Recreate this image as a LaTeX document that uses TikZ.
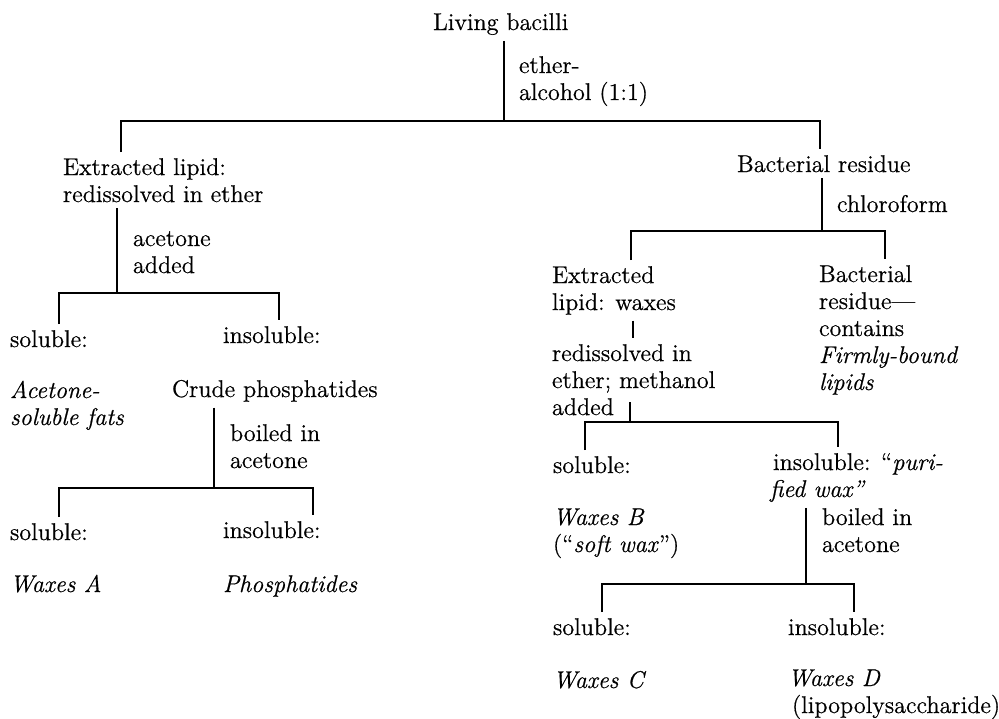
\documentclass[tikz,border=0pt]{standalone}
\usepackage{fontspec}
\setmainfont{Latin Modern Roman}[FakeBold=0.6]

\begin{document}
\begin{tikzpicture}[x=0.5pt, y=-0.5pt, line width=0.8pt,
    txt/.style={anchor=base west, inner sep=0pt, outer xsep=0pt, outer ysep=3pt, align=left,
                font=\fontsize{12.1}{13.5}\selectfont}]
      \useasboundingbox (0, 0) rectangle (999, 718);
      % left branch (y = baseline of the last line)
      \node[txt] (root)   at (433, 30)  {Living bacilli};
      \node[txt] (ether)  at (519, 100) {ether-\\alcohol (1:1)};
      \node[txt] (lipid)  at (63, 202)  {Extracted lipid:\\redissolved in ether};
      \node[txt] (acet)   at (133, 273) {acetone\\added};
      \node[txt] (solA)   at (10, 347)  {soluble:};
      \node[txt] (fats)   at (10, 425)  {\itshape Acetone-\\\itshape soluble fats};
      \node[txt] (insolA) at (223, 343) {insoluble:};
      \node[txt] (crude)  at (172, 397) {Crude phosphatides};
      \node[txt] (boilA)  at (230, 468) {boiled in\\acetone};
      \node[txt] (solB)   at (10, 540)  {soluble:};
      \node[txt] (waxA)   at (10, 592)  {\itshape Waxes A};
      \node[txt] (insolB) at (223, 538) {insoluble:};
      \node[txt] (phos)   at (223, 592) {\itshape Phosphatides};
      % right branch
      \node[txt] (residue) at (737, 172) {Bacterial residue};
      \node[txt] (chloro)  at (837, 212) {chloroform};
      \node[txt] (waxlip)  at (552, 310) {Extracted\\lipid: waxes};
      \node[txt] (firm)    at (819, 390) {Bacterial\\residue---\\contains\\\itshape Firmly-bound\\\itshape lipids};
      \node[txt] (redis)   at (552, 415) {redissolved in\\ether; methanol\\added};
      \node[txt] (solC)    at (553, 473) {soluble:};
      \node[txt] (waxB)    at (553, 552) {\itshape Waxes B\\(``\textit{soft wax}'')};
      \node[txt] (insolC)  at (773, 497) {insoluble: ``\textit{puri-}\\\hspace*{-1.5pt}\itshape fied wax''};
      \node[txt] (boilB)   at (822, 552) {boiled in\\acetone};
      \node[txt] (solD)    at (553, 635) {soluble:};
      \node[txt] (waxC)    at (553, 688) {\itshape Waxes C};
      \node[txt] (insolD)  at (788, 635) {insoluble:};
      \node[txt] (waxD)    at (788, 713) {\itshape Waxes D\\\hspace*{2pt}(lipopolysaccharide)};

      % brackets
      \coordinate (s1) at (504, 121); \coordinate (l1) at (121, 121); \coordinate (r1) at (820, 121);
      \draw (root.south -| s1) -- (s1);
      \draw (lipid.north -| l1) -- (l1) -- (r1) -- (residue.north -| r1);

      \coordinate (s2) at (117, 293); \coordinate (l2) at (59, 293); \coordinate (r2) at (279, 293);
      \draw (lipid.south -| s2) -- (s2);
      \draw (solA.north -| l2) -- (l2) -- (r2) -- (insolA.north -| r2);

      \coordinate (s3) at (214, 488); \coordinate (l3) at (59, 488); \coordinate (r3) at (313, 488);
      \draw (crude.south -| s3) -- (s3);
      \draw (solB.north -| l3) -- (l3) -- (r3) -- (insolB.north -| r3);

      \coordinate (s4) at (822, 231); \coordinate (l4) at (631, 231); \coordinate (r4) at (885, 231);
      \draw (residue.south -| s4) -- (s4);
      \draw (waxlip.north -| l4) -- (l4) -- (r4) -- (firm.north -| r4);

      \coordinate (w) at (633, 0);
      \draw (waxlip.south -| w) -- (redis.north -| w);

      \coordinate (t5) at (630, 402);
      \coordinate (s5) at (630, 422); \coordinate (l5) at (585, 422); \coordinate (r5) at (838, 422);
      \draw (t5) -- (s5);
      \draw (solC.north -| l5) -- (l5) -- (r5) -- (insolC.north -| r5);

      \coordinate (s6) at (806, 584); \coordinate (l6) at (602, 584); \coordinate (r6) at (854, 584);
      \draw (insolC.south -| s6) -- (s6);
      \draw (solD.north -| l6) -- (l6) -- (r6) -- (insolD.north -| r6);
\end{tikzpicture}
\end{document}
